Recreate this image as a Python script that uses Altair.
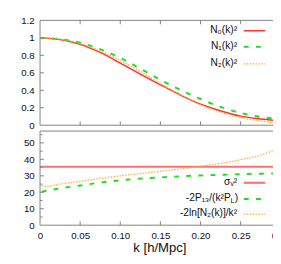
import altair as alt
import pandas as pd

FONT = "Liberation Sans"

# ---- data ----
k_top = [0.0, 0.025, 0.05, 0.075, 0.10, 0.125, 0.15, 0.175, 0.20, 0.225, 0.25, 0.275, 0.30]
n0_sq = [1.0, 0.98, 0.926, 0.833, 0.711, 0.585, 0.463, 0.345, 0.24, 0.165, 0.104, 0.072, 0.048]
n1_sq = [1.0, 0.985, 0.944, 0.87, 0.77, 0.648, 0.52, 0.405, 0.30, 0.21, 0.14, 0.095, 0.07]
n2_sq = [1.0, 0.985, 0.935, 0.85, 0.74, 0.615, 0.475, 0.35, 0.235, 0.15, 0.088, 0.048, 0.022]

k_bot = [0.002, 0.008, 0.025, 0.05, 0.075, 0.10, 0.125, 0.15, 0.175, 0.20, 0.225, 0.25, 0.275, 0.30]
p13_term = [20.4, 20.9, 22.4, 24.1, 25.9, 27.3, 28.3, 29.0, 29.7, 30.2, 30.6, 31.0, 31.3, 31.6]
ln_term = [24.3, 23.6, 25.0, 26.7, 28.4, 30.0, 31.4, 32.8, 34.2, 35.8, 37.6, 39.8, 42.5, 47.5]
k_sigma = [0.0, 0.30]
sigma_v2 = [35.5, 35.5]

top_labels = ["N₀(k)²", "N₁(k)²", "N₂(k)²"]
bot_labels = ["σᵥ²", "-2P₁₃/(k²P", "-2ln[N₂(k)]/k²"]

x_tick_vals = [0, 0.05, 0.10, 0.15, 0.20, 0.25, 0.30]
x_ticks = [0.05, 0.10, 0.15, 0.20, 0.25]
top_y_ticks = [0.2, 0.4, 0.6, 0.8, 1.0]
bot_y_major = [10, 20, 30, 40, 50]
bot_y_minor = [5, 15, 25, 35, 45, 55]

# ---- styles ----
W, H_TOP, H_BOT = 248, 108, 97
RED, RED_B, GREEN, ORANGE = "#ff3030", "#ff7070", "#1ede1e", "#ffaa33"
GRAY = "#808080"

top_df = pd.DataFrame({"k": k_top, "n0": n0_sq, "n1": n1_sq, "n2": n2_sq})
bot_df = pd.DataFrame({"k": k_bot, "p13": p13_term, "ln": ln_term})
sig_df = pd.DataFrame({"k": k_sigma, "s": sigma_v2})

xscale = alt.Scale(domain=[0, 0.30], nice=False, zero=False)
yscale_top = alt.Scale(domain=[0, 1.2], nice=False)
yscale_bot = alt.Scale(domain=[0, 57.2], nice=False)

yaxis_common = dict(ticks=False, domain=False, grid=False, labelPadding=6,
                    labelFont=FONT, labelFontSize=10, labelColor="#111",
                    minExtent=33, maxExtent=33, title=None)

top_yaxis = alt.Axis(values=[0, 0.2, 0.4, 0.6, 0.8, 1.0, 1.2],
                     labelExpr="format(datum.value, '~g')", **yaxis_common)
top_xaxis = alt.Axis(labels=False, ticks=False, domain=False, grid=False, title=None)
bot_yaxis = alt.Axis(values=[0, 10, 20, 30, 40, 50], format="d", **yaxis_common)
bot_xaxis = alt.Axis(values=x_tick_vals,
                     labelExpr="datum.value == 0 ? '0' : format(datum.value, '.2f')",
                     ticks=False, domain=False, grid=False, labelPadding=6,
                     labelFont=FONT, labelFontSize=10, labelColor="#111",
                     labelFlush=False,
                     title="k [h/Mpc]", titleFont=FONT, titleFontSize=13.5,
                     titleFontWeight="normal", titleColor="#111", titlePadding=0,
                     titleX=123)


def line(df, col, yscale, yaxis, xaxis, color, width, dash=None):
    kw = dict(color=color, strokeWidth=width, interpolate="monotone", clip=True)
    if dash:
        kw["strokeDash"] = dash
    return alt.Chart(df).mark_line(**kw).encode(
        x=alt.X("k:Q", scale=xscale, axis=xaxis),
        y=alt.Y(f"{col}:Q", scale=yscale, axis=yaxis),
    )


def frame(h):
    one = pd.DataFrame({"a": [0]})
    left = alt.Chart(one).mark_rule(color=GRAY, strokeWidth=1).encode(
        x=alt.value(0), y=alt.value(0), y2=alt.value(h))
    topb = alt.Chart(one).mark_rule(color=GRAY, strokeWidth=1).encode(
        x=alt.value(0), x2=alt.value(W), y=alt.value(0))
    botb = alt.Chart(one).mark_rule(color=GRAY, strokeWidth=1).encode(
        x=alt.value(0), x2=alt.value(W), y=alt.value(h))
    return [left, topb, botb]


def xticks(h, xaxis, top=True):
    df = pd.DataFrame({"k": x_ticks})
    layers = [alt.Chart(df).mark_rule(color=GRAY, strokeWidth=1).encode(
        x=alt.X("k:Q", scale=xscale, axis=xaxis), y=alt.value(h), y2=alt.value(h - 4))]
    if top:
        layers.append(alt.Chart(df).mark_rule(color=GRAY, strokeWidth=1).encode(
            x=alt.X("k:Q", scale=xscale, axis=xaxis), y=alt.value(0), y2=alt.value(4)))
    return layers


def yticks(vals, yscale, yaxis, length):
    df = pd.DataFrame({"v": vals})
    return alt.Chart(df).mark_rule(color=GRAY, strokeWidth=1).encode(
        y=alt.Y("v:Q", scale=yscale, axis=yaxis), x=alt.value(0), x2=alt.value(length))


def legend_entry(text, ypx, color, width, dash=None, text_right=203):
    t = alt.Chart(pd.DataFrame({"t": [text]})).mark_text(
        align="right", baseline="middle", font=FONT, fontSize=10.5, color="#111", dy=-1
    ).encode(text="t:N", x=alt.value(text_right), y=alt.value(ypx))
    kw = dict(color=color, strokeWidth=width)
    if dash:
        kw["strokeDash"] = dash
    r = alt.Chart(pd.DataFrame({"a": [0]})).mark_rule(**kw).encode(
        x=alt.value(210), x2=alt.value(232), y=alt.value(ypx))
    return [t, r]


top_layers = [
    line(top_df, "n0", yscale_top, top_yaxis, top_xaxis, RED, 1.5),
    line(top_df, "n1", yscale_top, top_yaxis, top_xaxis, GREEN, 2, dash=[5, 7.5]),
    line(top_df, "n2", yscale_top, top_yaxis, top_xaxis, ORANGE, 1.3, dash=[1.5, 1.5]),
    yticks(top_y_ticks, yscale_top, top_yaxis, 4),
] + frame(H_TOP) + xticks(H_TOP, top_xaxis) \
  + legend_entry(top_labels[0], 10.7, RED, 1.5) \
  + legend_entry(top_labels[1], 27.3, GREEN, 2, dash=[5, 7.5]) \
  + legend_entry(top_labels[2], 44.7, ORANGE, 1.3, dash=[1.5, 1.5])

top = alt.layer(*top_layers).properties(width=W, height=H_TOP)

# P_L subscript pieces for the second bottom legend label
sub_L = alt.Chart(pd.DataFrame({"t": ["L"]})).mark_text(
    align="right", baseline="middle", font=FONT, fontSize=7.5, color="#111", dy=2
).encode(text="t:N", x=alt.value(200.5), y=alt.value(70))
par = alt.Chart(pd.DataFrame({"t": [")"]})).mark_text(
    align="right", baseline="middle", font=FONT, fontSize=10.5, color="#111", dy=-1
).encode(text="t:N", x=alt.value(204), y=alt.value(70))

bot_layers = [
    line(sig_df, "s", yscale_bot, bot_yaxis, bot_xaxis, RED_B, 2.2),
    line(bot_df, "p13", yscale_bot, bot_yaxis, bot_xaxis, GREEN, 2, dash=[5, 7.5]),
    line(bot_df, "ln", yscale_bot, bot_yaxis, bot_xaxis, ORANGE, 1.3, dash=[1.5, 1.5]),
    yticks(bot_y_major, yscale_bot, bot_yaxis, 4),
    yticks(bot_y_minor, yscale_bot, bot_yaxis, 2.5),
] + frame(H_BOT) + xticks(H_BOT, bot_xaxis, top=False) \
  + legend_entry(bot_labels[0], 53.3, RED_B, 2.2) \
  + legend_entry(bot_labels[1], 70, GREEN, 2, dash=[5, 7.5], text_right=196.5) \
  + [sub_L, par] \
  + legend_entry(bot_labels[2], 85.7, ORANGE, 1.3, dash=[1.5, 1.5])

bot = alt.layer(*bot_layers).properties(width=W, height=H_BOT)

# negative right padding crops the right end of the plot, as in the reference
chart = alt.vconcat(top, bot, spacing=0).properties(
    padding={"left": 0, "top": 4, "right": -18, "bottom": -1},
).configure_view(stroke=None)

chart.save("out.html", embed_options={"renderer": "svg", "actions": False})
